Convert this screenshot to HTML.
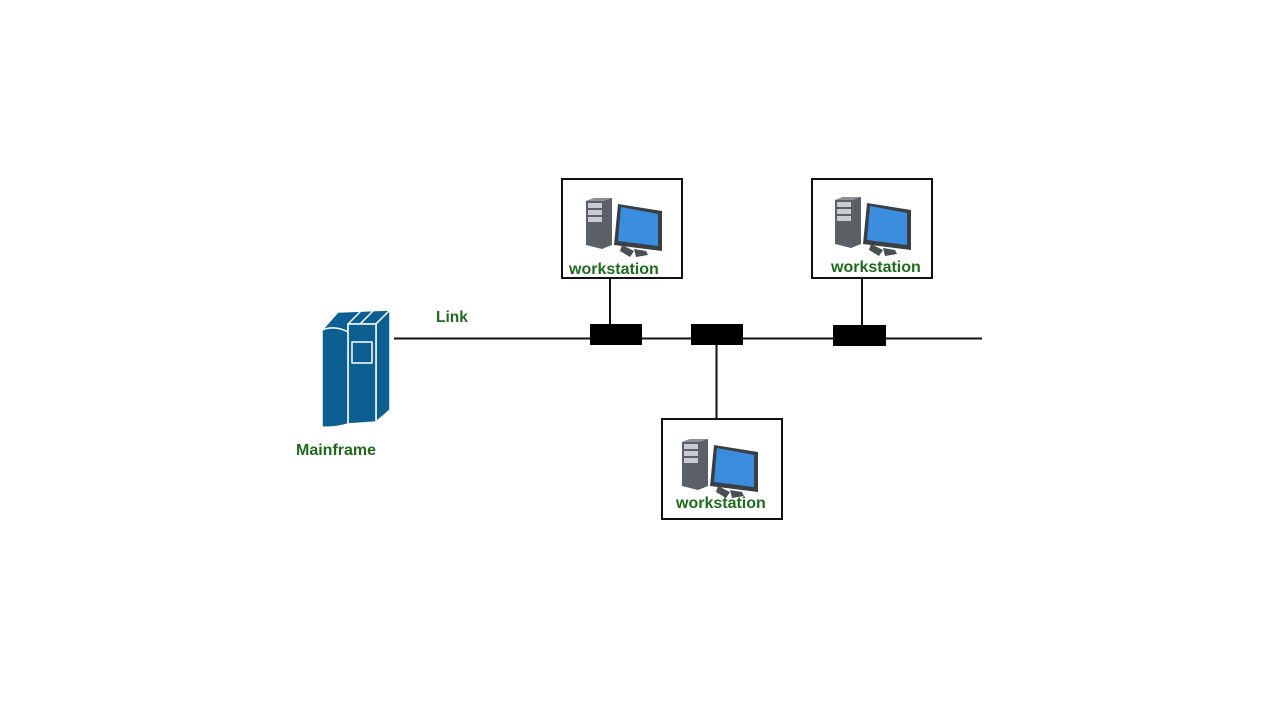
<!DOCTYPE html>
<html><head><style>body{margin:0;background:#fff}svg{display:block}</style></head><body>
<svg width="1280" height="720" viewBox="0 0 1280 720" xmlns="http://www.w3.org/2000/svg">
<defs>
<g id="ws">
  <polygon points="24,22 32,19 50,19 50,66 40,70 24,66" fill="#5a6066"/>
  <polygon points="24,22 32,19 50,19 42,22" fill="#8a9096"/>
  <rect x="26" y="24" width="14" height="5" fill="#c8ccd0"/>
  <rect x="26" y="31" width="14" height="5" fill="#c8ccd0"/>
  <rect x="26" y="38" width="14" height="5" fill="#c8ccd0"/>
  <polygon points="56,25 100,32 100,72 52,66" fill="#3a3f44"/>
  <polygon points="59,28 96,35 96,67 56,62" fill="#3b8de0"/>
  <polygon points="60,66 72,72 68,78 58,72" fill="#4a4f54"/>
  <polygon points="72,70 84,72 86,76 74,78" fill="#4a4f54"/>
</g>
</defs>
<line x1="394" y1="338.5" x2="982" y2="338.5" stroke="#111" stroke-width="2"/>
<line x1="610" y1="278" x2="610" y2="326" stroke="#111" stroke-width="2"/>
<line x1="862" y1="278" x2="862" y2="326" stroke="#111" stroke-width="2"/>
<line x1="716.5" y1="345" x2="716.5" y2="419" stroke="#111" stroke-width="2"/>
<rect x="590" y="324" width="52" height="21" fill="#000"/>
<rect x="691" y="324" width="52" height="21" fill="#000"/>
<rect x="833" y="325" width="53" height="21" fill="#000"/>
<rect x="562" y="179" width="120" height="99" fill="#fff" stroke="#111" stroke-width="2"/>
<use href="#ws" x="562" y="179"/>
<rect x="812" y="179" width="120" height="99" fill="#fff" stroke="#111" stroke-width="2"/>
<use href="#ws" x="811" y="178"/>
<rect x="662" y="419" width="120" height="100" fill="#fff" stroke="#111" stroke-width="2"/>
<use href="#ws" x="658" y="420"/>
<g font-family="Liberation Sans, sans-serif" font-weight="bold" font-size="16" fill="#1e6b1e">
<text x="569" y="274">workstation</text>
<text x="831" y="272">workstation</text>
<text x="676" y="508">workstation</text>
<text x="436" y="322" font-size="15.5">Link</text>
<text x="296" y="455">Mainframe</text>
</g>
<g fill="#0e5f91" stroke="#fff" stroke-width="1.5" stroke-linejoin="round">
  <polygon points="322,330 338,312 390,310 376,324 348,324 348,332"/>
  <polygon points="376,324 390,310 390,410 376,422"/>
  <polygon points="348,324 376,324 376,422 348,424"/>
  <path d="M322,330 Q335,325 348,332 L348,424 Q335,428 322,427 Z"/>
  <line x1="362" y1="310" x2="348" y2="324"/>
  <line x1="374" y1="310" x2="360" y2="324"/>
  <rect x="352" y="342" width="20" height="21"/>
</g>
</svg>
</body></html>
